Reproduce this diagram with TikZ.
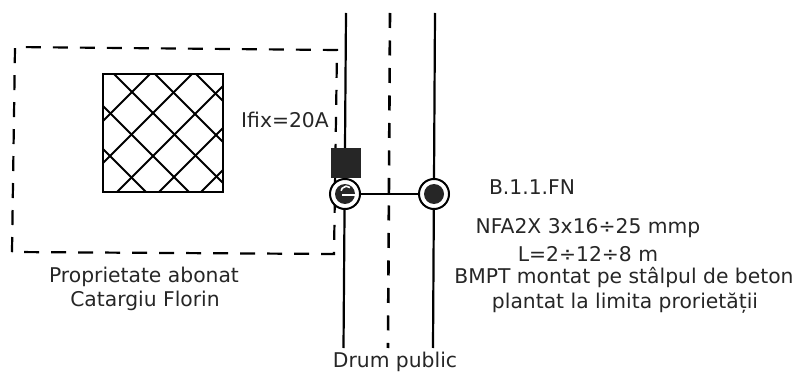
\documentclass[tikz,border=0pt]{standalone}
\usepackage{fontspec}
\setmainfont{DejaVu Sans}
\tikzset{
  label text/.style={font=\fontsize{20.3}{24}\selectfont, inner sep=0pt, text=black!85},
  road/.style={line width=2.2pt},
  edge dash/.style={line width=2.2pt, dash pattern=on 15pt off 12pt},
  hatch/.style={line width=2pt},
  pole/.style={circle, draw, line width=2pt, fill=white, minimum size=30pt, inner sep=0pt},
  pole core/.style={circle, fill=black!85, minimum size=20pt, inner sep=0pt},
}
\begin{document}
\begin{tikzpicture}[x=1pt,y=-1pt]
      \useasboundingbox (0,0) rectangle (795,374);
      \draw[edge dash] (12,252) -- (15,47) -- (337,50) -- (334,254) -- cycle;
      \draw[hatch] (103,74) rectangle (223,192);
      \begin{scope}
        \clip (103,74) rectangle (223,192);
        \foreach \c in {-46,-3,40,81,122}
          \draw[hatch] (\c+60,60) -- (\c+220,220);
        \foreach \s in {224,266,309,351,393}
          \draw[hatch] (\s-60,60) -- (\s-220,220);
      \end{scope}
      \coordinate (stangaSus) at (346,13);
      \coordinate (stangaJos) at (343.5,348);
      \coordinate (dreaptaSus) at (435,13);
      \coordinate (dreaptaJos) at (433,348);
      \draw[road] (stangaSus) -- (stangaJos);
      \draw[road] (dreaptaSus) -- (dreaptaJos);
      \draw[line width=2.6pt, dash pattern=on 15pt off 12.5pt] (390,13) -- (388,348);
      \node (firida) at (346,163.5) [fill=black!85, minimum size=30pt, inner sep=0pt] {};
      \node (stalpA) at (345,194) [pole] {};
      \node (stalpB) at (434,194) [pole] {};
      \draw[road] (stalpA) -- (stalpB);
      \node at (stalpA) [pole core] {};
      \node at (stalpB) [pole core] {};
      \draw[white, line width=1.6pt] (350,187.5) arc (-50:-170:5.5);
      \draw[white, line width=2pt] (342,195) -- (356,195);
      \node (ifix) at (285,120) [label text] {Ifix=20A};
      \node (abonat) at (144,277) [label text] {Proprietate abonat};
      \node (nume) at (145,301) [label text] {Catargiu Florin};
      \node (drum) at (395,362) [label text] {Drum public};
      \node (bransament) at (532,187) [label text] {B.1.1.FN};
      \node (cablu) at (588,228) [label text] {NFA2X 3x16÷25 mmp};
      \node (lungime) at (588,254) [label text] {L=2÷12÷8 m};
      \node (bmpt) at (624,277) [label text] {BMPT montat pe stâlpul de beton};
      \node (limita) at (625,303) [label text] {plantat la limita prorietății};
    \end{tikzpicture}
\end{document}
